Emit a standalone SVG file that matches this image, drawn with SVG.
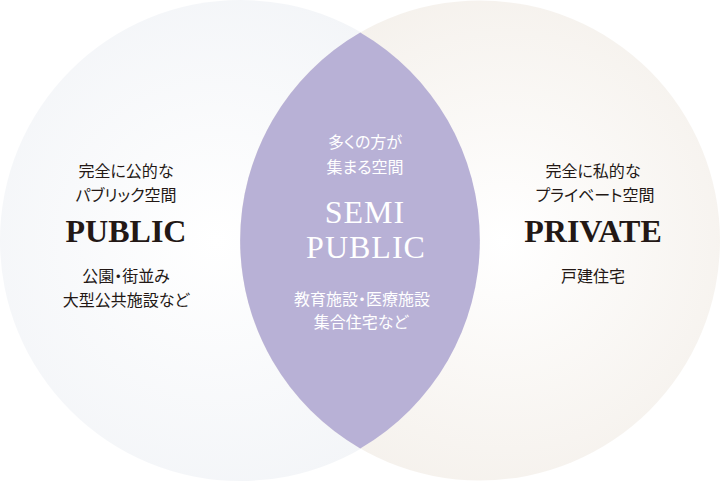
<svg xmlns="http://www.w3.org/2000/svg" width="720" height="481" viewBox="0 0 720 481">
<defs>
<radialGradient id="gl" cx="0.45" cy="0.5" r="0.55">
<stop offset="0" stop-color="#ffffff"/>
<stop offset="1" stop-color="#f3f5f8"/>
</radialGradient>
<radialGradient id="gr" cx="0.55" cy="0.5" r="0.55">
<stop offset="0" stop-color="#ffffff"/>
<stop offset="1" stop-color="#f5f1ec"/>
</radialGradient>
<style>
.jp{font-family:"Noto Sans CJK JP","Noto Sans",sans-serif;font-size:16px;text-anchor:middle;font-feature-settings:"palt";}
.en{font-family:"Liberation Serif","Times New Roman",serif;font-size:32px;text-anchor:middle;}
.dk{fill:#231815;}
.wt{fill:#ffffff;}
</style>
</defs>
<rect width="720" height="481" fill="#ffffff"/>
<g id="public">
<circle cx="240.5" cy="240.5" r="240.5" fill="url(#gl)"/>
</g>
<g id="private">
<circle cx="480" cy="240.5" r="240" fill="url(#gr)"/>
</g>
<g id="semipublic">
<path d="M360.25 32.6 A240.5 240.5 0 0 1 360.25 448.4 A240 240 0 0 1 360.25 32.6 Z" fill="#b8b1d6"/>
</g>
<g id="public-text">
<text class="jp dk" x="126" y="177">完全に公的な</text>
<text class="jp dk" x="126" y="201">パブリック空間</text>
<text class="en dk" x="126" y="242" font-weight="bold">PUBLIC</text>
<text class="jp dk" x="126" y="282">公園・街並み</text>
<text class="jp dk" x="126" y="306">大型公共施設など</text>
</g>
<g id="semipublic-text">
<text class="jp wt" x="365" y="148">多くの方が</text>
<text class="jp wt" x="365" y="173">集まる空間</text>
<text class="en wt" x="365" y="223" font-size="33" letter-spacing="1">SEMI</text>
<text class="en wt" x="366" y="258" font-size="33" letter-spacing="1">PUBLIC</text>
<text class="jp wt" x="362" y="305">教育施設・医療施設</text>
<text class="jp wt" x="361" y="328">集合住宅など</text>
</g>
<g id="private-text">
<text class="jp dk" x="593" y="177">完全に私的な</text>
<text class="jp dk" x="595" y="201">プライベート空間</text>
<text class="en dk" x="593" y="242" font-weight="bold">PRIVATE</text>
<text class="jp dk" x="593" y="282">戸建住宅</text>
</g>
<g id="connectors"/>
</svg>
